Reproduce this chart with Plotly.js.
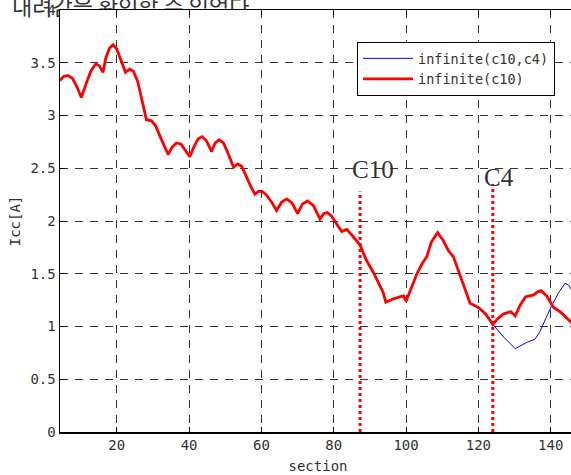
<!DOCTYPE html>
<html>
<head>
<meta charset="utf-8">
<script src="https://cdn.plot.ly/plotly-3.0.1.min.js"></script>
<style>
  html, body { margin: 0; padding: 0; width: 571px; height: 475px; overflow: hidden; background: #fff; }
  #caption {
    position: absolute; left: 12px; top: -9px; z-index: 0;
    font-family: "Noto Sans CJK KR", sans-serif; font-size: 22px; color: #333;
    white-space: nowrap; line-height: 28px;
  }
  #chart { position: absolute; left: 0; top: 0; z-index: 1; }
</style>
</head>
<body>
<div id="caption">내려감을 확인할 수 있었다</div>
<div id="chart"></div>
<script>
// Short-circuit current along the line sections, C10 only
const sections = [
  4.3, 5.3, 6.5, 7.8, 9.0, 10.2, 11.5, 12.8, 14.2, 15.2, 16.2, 17.0, 18.0, 19.0, 20.0,
  21.2, 22.4, 23.6, 24.6, 25.8, 27.0, 28.2, 29.6, 30.8, 32.0, 33.2, 34.2, 35.3, 36.5,
  37.7, 39.0, 40.2, 41.3, 42.5, 43.6, 44.8, 46.2, 47.2, 48.3, 49.5, 50.8, 52.3, 53.4,
  54.5, 55.6, 57.0, 58.2, 59.2, 60.2, 61.3, 62.8, 64.2, 65.6, 67.0, 68.5, 70.0, 71.3,
  72.7, 74.3, 76.2, 77.2, 78.2, 79.3, 80.8, 82.2, 83.6, 85.2, 87.3, 89.0, 91.0, 92.6,
  93.7, 94.4, 96.3, 98.3, 99.3, 100.0, 101.5, 103.0, 104.5, 105.7, 107.0, 108.7, 110.2,
  111.7, 113.1, 115.5, 117.7, 120.0, 122.0, 124.0, 125.5, 127.0, 129.0, 130.2, 131.5,
  133.0, 135.3, 136.4, 137.3, 138.9, 140.8, 142.6, 145.7, 147.0
];
const iccC10 = [
  3.33, 3.37, 3.38, 3.35, 3.27, 3.17, 3.30, 3.42, 3.49, 3.47, 3.41, 3.55, 3.64, 3.67, 3.63,
  3.52, 3.41, 3.44, 3.42, 3.32, 3.15, 2.96, 2.95, 2.90, 2.80, 2.70, 2.63, 2.70, 2.74,
  2.73, 2.67, 2.61, 2.70, 2.78, 2.80, 2.76, 2.66, 2.74, 2.77, 2.74, 2.64, 2.51, 2.54,
  2.52, 2.44, 2.33, 2.255, 2.28, 2.28, 2.25, 2.18, 2.10, 2.18, 2.21, 2.17, 2.07, 2.16,
  2.19, 2.15, 2.02, 2.07, 2.08, 2.05, 1.97, 1.90, 1.92, 1.86, 1.77, 1.63, 1.51, 1.40,
  1.32, 1.23, 1.26, 1.28, 1.29, 1.24, 1.38, 1.50, 1.60, 1.66, 1.80, 1.89, 1.82,
  1.72, 1.66, 1.43, 1.22, 1.18, 1.12, 1.02, 1.08, 1.12, 1.14, 1.10, 1.20,
  1.28, 1.30, 1.33, 1.34, 1.29, 1.18, 1.14, 1.04, 1.01
];

// With C4 added the current follows the C10 curve up to section 124, then this branch
const c4Start = 124.0;
const tailSections = [127.0, 130.2, 131.8, 133.4, 135.7, 137.0, 138.7, 140.3, 142.2, 144.0, 145.0, 146.0, 147.0];
const tailIcc      = [0.90, 0.79, 0.82, 0.85, 0.88, 0.95, 1.08, 1.20, 1.32, 1.41, 1.39, 1.34, 1.28];

// Compensator locations
const markerNames = ['C10', 'C4'];
const markerSections = [87.3, 124.0];
const markerTops = [2.28, 2.35];
const labelY = [2.49, 2.41];

const seriesNames = ['infinite(c10,c4)', 'infinite(c10)'];
const xTicks = [20, 40, 60, 80, 100, 120, 140];
const yTicks = [0, 0.5, 1, 1.5, 2, 2.5, 3, 3.5, 4];

// blue branch = shared head + its own tail
const headIdx = sections.filter(s => s <= c4Start).length;
const bothX = sections.slice(0, headIdx).concat(tailSections);
const bothY = iccC10.slice(0, headIdx).concat(tailIcc);

const mono = 'DejaVu Sans Mono, monospace';
const txt = '#333';

const traces = [
  { x: bothX, y: bothY, name: seriesNames[0], type: 'scatter', mode: 'lines',
    line: { color: '#0000ff', width: 1 } },
  { x: sections, y: iccC10, name: seriesNames[1], type: 'scatter', mode: 'lines',
    line: { color: '#ff0000', width: 2.8 } }
];
markerSections.forEach((s, i) => {
  traces.push({ x: [s, s], y: [0, markerTops[i]], type: 'scatter', mode: 'lines',
    showlegend: false, hoverinfo: 'skip',
    line: { color: '#ff0000', width: 3, dash: 'dot' } });
});

const annotations = markerNames.map((n, i) => ({
  x: markerSections[i] - 2.9, y: labelY[i], xref: 'x', yref: 'y',
  text: n, showarrow: false, xanchor: 'left', yanchor: 'middle',
  font: { family: 'Liberation Serif, serif', size: 25, color: txt }
}));

const axisCommon = {
  showline: true, linecolor: '#000', linewidth: 1.5, mirror: 'ticks',
  ticks: 'inside', ticklen: 5, tickcolor: '#000', tickwidth: 1,
  showgrid: true, gridcolor: '#333', gridwidth: 1, griddash: '8px,7px',
  zeroline: false, tickfont: { family: mono, size: 14, color: txt }
};

const layout = {
  width: 580, height: 475,
  margin: { l: 60, r: 4, t: 10, b: 43 },
  paper_bgcolor: 'rgba(0,0,0,0)', plot_bgcolor: '#fff',
  showlegend: true,
  xaxis: Object.assign({}, axisCommon, {
    range: [4.3, 147], tickvals: xTicks,
    title: { text: 'section', font: { family: mono, size: 14, color: txt }, standoff: 9 }
  }),
  yaxis: Object.assign({}, axisCommon, {
    range: [0, 4], tickvals: yTicks,
    title: { text: 'Icc[A]', font: { family: mono, size: 14, color: txt }, standoff: 6 }
  }),
  legend: {
    x: 0.5756, y: 0.924, xanchor: 'left', yanchor: 'top',
    bgcolor: '#fff', bordercolor: '#000', borderwidth: 1,
    font: { family: mono, size: 13.5, color: txt },
    itemwidth: 50, tracegroupgap: 0
  },
  annotations: annotations
};

Plotly.newPlot('chart', traces, layout, { staticPlot: true, displayModeBar: false });
</script>
</body>
</html>
